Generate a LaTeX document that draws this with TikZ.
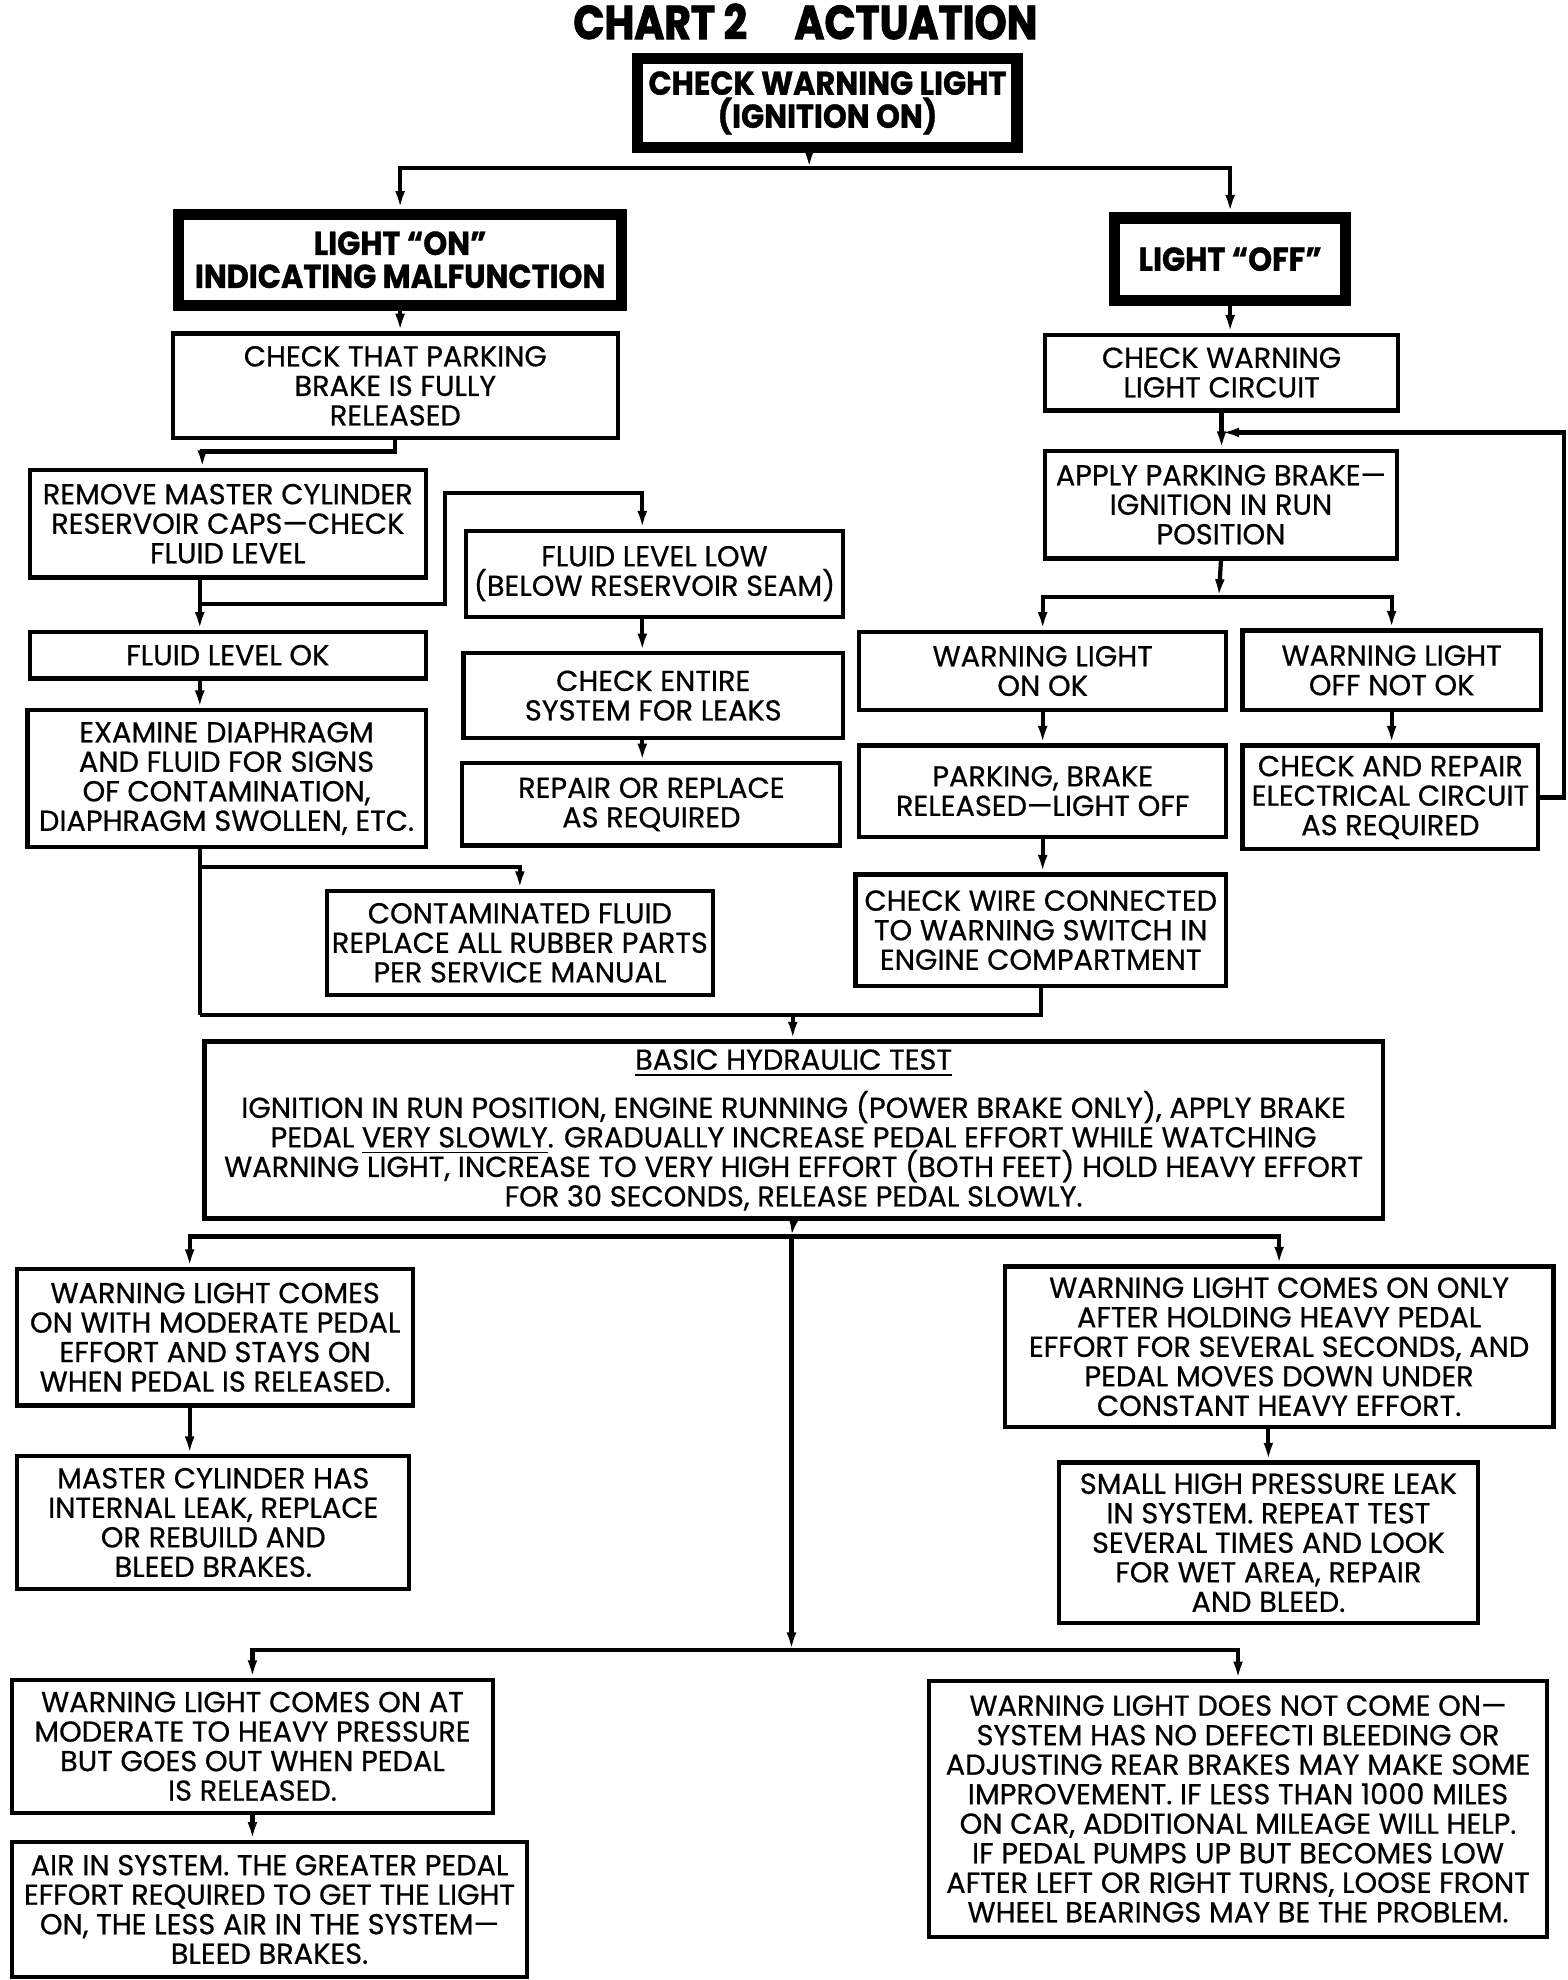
\documentclass[tikz,border=0pt]{standalone}
\usepackage{fontspec}
\setmainfont{Poppins}[FakeBold=0.6]
\newfontfamily\headfont{Poppins}[FakeStretch=0.92, UprightFont=*-Bold, FakeBold=1]
\newfontfamily\titlefont{Poppins}[FakeStretch=0.86, UprightFont=*-Bold, FakeBold=2]
\usepackage{tikz}
\usetikzlibrary{arrows.meta}
\newlength{\unitpx}
\setlength{\unitpx}{0.3598pt}
\tikzset{chartbox/.style={
  draw, line width=1.2pt,
  align=center,
  anchor=north west,
  inner sep=0pt,
  font=\fontsize{8.2}{8.4}\selectfont
}}
\tikzset{headbox/.style={
  chartbox, line width=3.2pt,
  font=\fontsize{9.4}{9.4}\selectfont\headfont
}}
\tikzset{flow/.style={line width=1.2pt, -{Latex[length=5pt,width=2.8pt]}}}
\tikzset{link/.style={line width=1.2pt}}
\newcommand{\flatul}[1]{\smash{\underline{#1}}}
\begin{document}
\begin{tikzpicture}[x=\unitpx, y=-\unitpx]
  \useasboundingbox (0,0) rectangle (1240,1566);
  \node [font=\fontsize{13.5}{14}\selectfont\titlefont] (title) at (637,17) {CHART 2\hspace{1em}ACTUATION};
  % light check
  \node [headbox, minimum width=300\unitpx, minimum height=70\unitpx] (check) at (500,42) {CHECK WARNING LIGHT\\(IGNITION ON)};
  \node [headbox, minimum width=350\unitpx, minimum height=72\unitpx] (lighton) at (137,165) {LIGHT “ON”\\INDICATING MALFUNCTION};
  \node [headbox, minimum width=183\unitpx, minimum height=65\unitpx] (lightoff) at (877,168) {LIGHT “OFF”};
  % left branch
  \node [chartbox, minimum width=352\unitpx, minimum height=83\unitpx] (parking) at (135,262) {CHECK THAT PARKING\\BRAKE IS FULLY\\RELEASED};
  \node [chartbox, minimum width=313\unitpx, minimum height=85\unitpx] (remove) at (22,370) {REMOVE MASTER CYLINDER\\RESERVOIR CAPS—CHECK\\FLUID LEVEL};
  \node [chartbox, minimum width=298\unitpx, minimum height=68\unitpx] (lowlevel) at (367,418) {FLUID LEVEL LOW\\(BELOW RESERVOIR SEAM)};
  \node [chartbox, minimum width=313\unitpx, minimum height=37\unitpx] (fluidok) at (22,498) {FLUID LEVEL OK};
  \node [chartbox, minimum width=300\unitpx, minimum height=67\unitpx] (leaks) at (365,515) {CHECK ENTIRE\\SYSTEM FOR LEAKS};
  \node [chartbox, minimum width=299\unitpx, minimum height=65\unitpx] (replace) at (364,602) {REPAIR OR REPLACE\\AS REQUIRED};
  \node [chartbox, minimum width=315\unitpx, minimum height=108\unitpx] (examine) at (20,560) {EXAMINE DIAPHRAGM\\AND FLUID FOR SIGNS\\OF CONTAMINATION,\\DIAPHRAGM SWOLLEN, ETC.};
  \node [chartbox, minimum width=305\unitpx, minimum height=82\unitpx] (contam) at (257,703) {CONTAMINATED FLUID\\REPLACE ALL RUBBER PARTS\\PER SERVICE MANUAL};
  % right branch
  \node [chartbox, minimum width=279\unitpx, minimum height=60\unitpx] (circuit) at (825,263) {CHECK WARNING\\LIGHT CIRCUIT};
  \node [chartbox, minimum width=278\unitpx, minimum height=85\unitpx] (apply) at (825,355) {APPLY PARKING BRAKE—\\IGNITION IN RUN\\POSITION};
  \node [chartbox, minimum width=290\unitpx, minimum height=62\unitpx] (onok) at (678,498) {WARNING LIGHT\\ON OK};
  \node [chartbox, minimum width=236\unitpx, minimum height=63\unitpx] (offnot) at (981,497) {WARNING LIGHT\\OFF NOT OK};
  \node [chartbox, minimum width=290\unitpx, minimum height=72\unitpx] (released) at (678,588) {PARKING, BRAKE\\RELEASED—LIGHT OFF};
  \node [chartbox, minimum width=234\unitpx, minimum height=82\unitpx] (electric) at (981,588) {CHECK AND REPAIR\\ELECTRICAL CIRCUIT\\AS REQUIRED};
  \node [chartbox, minimum width=293\unitpx, minimum height=88\unitpx] (wire) at (675,690) {CHECK WIRE CONNECTED\\TO WARNING SWITCH IN\\ENGINE COMPARTMENT};
  % hydraulic test
  \node [chartbox, minimum width=932\unitpx, minimum height=140\unitpx] (basic) at (160,822) {\underline{BASIC HYDRAULIC TEST}\\[3pt]IGNITION IN RUN POSITION, ENGINE RUNNING (POWER BRAKE ONLY), APPLY BRAKE\\PEDAL \flatul{VERY SLOWLY}. GRADUALLY INCREASE PEDAL EFFORT WHILE WATCHING\\WARNING LIGHT, INCREASE TO VERY HIGH EFFORT (BOTH FEET) HOLD HEAVY EFFORT\\FOR 30 SECONDS, RELEASE PEDAL SLOWLY.};
  \node [chartbox, minimum width=313\unitpx, minimum height=108\unitpx] (moderate) at (12,1002) {WARNING LIGHT COMES\\ON WITH MODERATE PEDAL\\EFFORT AND STAYS ON\\WHEN PEDAL IS RELEASED.};
  \node [chartbox, minimum width=310\unitpx, minimum height=105\unitpx] (internal) at (12,1150) {MASTER CYLINDER HAS\\INTERNAL LEAK, REPLACE\\OR REBUILD AND\\BLEED BRAKES.};
  \node [chartbox, minimum width=434\unitpx, minimum height=127\unitpx] (holding) at (793,1000) {WARNING LIGHT COMES ON ONLY\\AFTER HOLDING HEAVY PEDAL\\EFFORT FOR SEVERAL SECONDS, AND\\PEDAL MOVES DOWN UNDER\\CONSTANT HEAVY EFFORT.};
  \node [chartbox, minimum width=331\unitpx, minimum height=127\unitpx] (small) at (836,1155) {SMALL HIGH PRESSURE LEAK\\IN SYSTEM. REPEAT TEST\\SEVERAL TIMES AND LOOK\\FOR WET AREA, REPAIR\\AND BLEED.};
  \node [chartbox, minimum width=380\unitpx, minimum height=105\unitpx] (atmod) at (8,1327) {WARNING LIGHT COMES ON AT\\MODERATE TO HEAVY PRESSURE\\BUT GOES OUT WHEN PEDAL\\IS RELEASED.};
  \node [chartbox, minimum width=407\unitpx, minimum height=107\unitpx] (air) at (8,1455) {AIR IN SYSTEM. THE GREATER PEDAL\\EFFORT REQUIRED TO GET THE LIGHT\\ON, THE LESS AIR IN THE SYSTEM—\\BLEED BRAKES.};
  \node [chartbox, minimum width=489\unitpx, minimum height=202\unitpx] (nocome) at (733,1328) {WARNING LIGHT DOES NOT COME ON—\\SYSTEM HAS NO DEFECTI BLEEDING OR\\ADJUSTING REAR BRAKES MAY MAKE SOME\\IMPROVEMENT. IF LESS THAN 1000 MILES\\ON CAR, ADDITIONAL MILEAGE WILL HELP.\\IF PEDAL PUMPS UP BUT BECOMES LOW\\AFTER LEFT OR RIGHT TURNS, LOOSE FRONT\\WHEEL BEARINGS MAY BE THE PROBLEM.};
  % junctions
  \coordinate (topfork) at (640,133);
  \coordinate (leftfork) at (160,357);
  \coordinate (okfork) at (158,478);
  \coordinate (lowbend) at (352,390);
  \coordinate (lowline) at (508,390);
  \coordinate (contamfork) at (158,686);
  \coordinate (mergeleft) at (158,803);
  \coordinate (merge) at (627,803);
  \coordinate (lampfork) at (964,472);
  \coordinate (loopcorner) at (1237,342);
  \coordinate (testfork) at (626,978);
  \coordinate (lowerfork) at (626,1305);
  \coordinate (moderateline) at (150,978);
  % connectors
  \draw [flow] (check.south -| topfork) -- (topfork);
  \draw [flow] (topfork) -| (lighton.north);
  \draw [flow] (topfork) -| (lightoff.north);
  \draw [flow] (lighton.south) -- (lighton.south |- parking.north);
  \draw [flow] (parking.south) |- (leftfork) -- (leftfork |- remove.north);
  \draw [link] (okfork |- remove.south) -- (okfork);
  \draw [flow] (okfork) -- (okfork |- fluidok.north);
  \draw [flow] (okfork) -| (lowbend) -- (lowline) -- (lowline |- lowlevel.north);
  \draw [flow] (lowline |- lowlevel.south) -- (lowline |- leaks.north);
  \draw [flow] (lowline |- leaks.south) -- (lowline |- replace.north);
  \draw [flow] (okfork |- fluidok.south) -- (okfork |- examine.north);
  \draw [link] (contamfork |- examine.south) -- (mergeleft);
  \draw [flow] (contamfork) -| (contam.north);
  \draw [flow] (lightoff.south) -- (lightoff.south |- circuit.north);
  \draw [flow] (circuit.south) -- (circuit.south |- apply.north);
  \draw [flow] (electric.east) -| (loopcorner) -- (circuit.south |- loopcorner);
  \draw [flow] (apply.south) -- (lampfork);
  \draw [flow] (lampfork) -| (onok.north);
  \draw [flow] (lampfork) -| (offnot.north);
  \draw [flow] (onok.south) -- (released.north);
  \draw [flow] (released.south) -- (released.south |- wire.north);
  \draw [flow] (offnot.south) -- (offnot.south |- electric.north);
  \draw [link] (wire.south) |- (mergeleft);
  \draw [flow] (merge) -- (merge |- basic.north);
  \draw [flow] (basic.south) -- (testfork);
  \draw [flow] (testfork) -| (moderateline |- moderate.north);
  \draw [flow] (testfork) -| (holding.north);
  \draw [flow] (moderateline |- moderate.south) -- (moderateline |- internal.north);
  \draw [flow] (small.north |- holding.south) -- (small.north);
  \draw [flow] (testfork) -- (lowerfork);
  \draw [flow] (lowerfork) -| (atmod.north);
  \draw [flow] (lowerfork) -| (nocome.north);
  \draw [flow] (atmod.south) -- (atmod.south |- air.north);
\end{tikzpicture}
\end{document}
